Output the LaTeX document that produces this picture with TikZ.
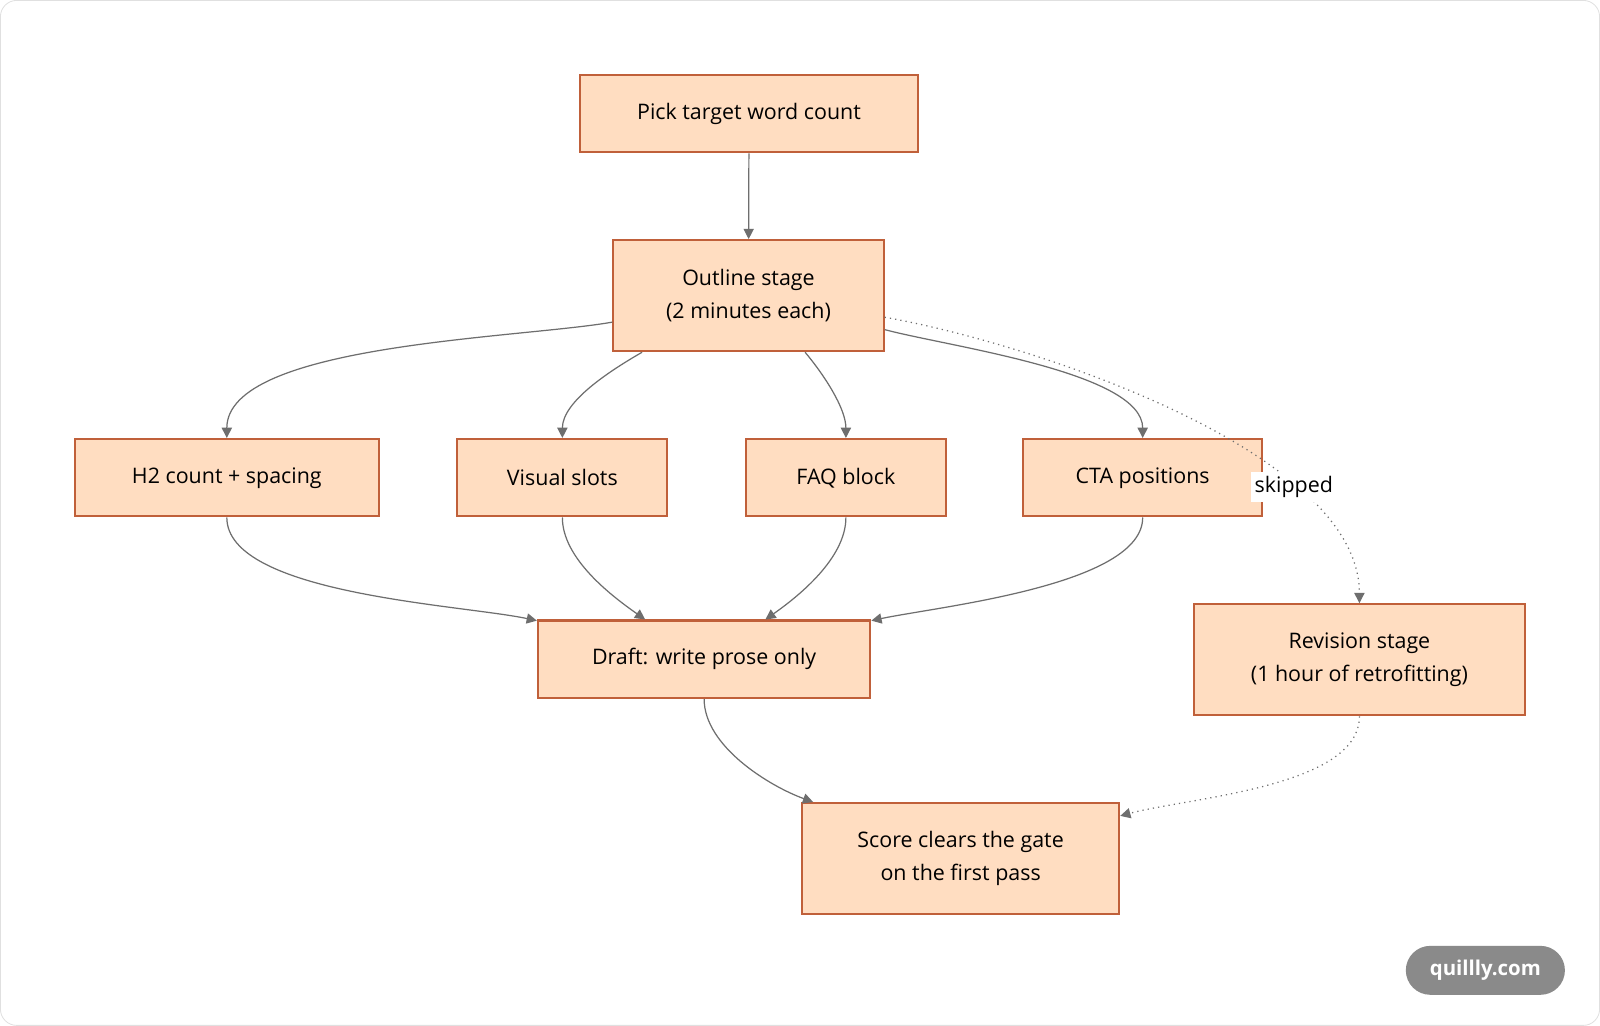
\documentclass[tikz,border=0pt]{standalone}
\usepackage{fontspec}
\setmainfont{Open Sans}
\usetikzlibrary{arrows.meta,positioning}
\definecolor{boxfill}{HTML}{FFDDC1}
\definecolor{boxline}{HTML}{C0603A}
\definecolor{linkgray}{HTML}{6E6E6E}
\definecolor{pillgray}{HTML}{8A8A8A}
\tikzset{
  stagebox/.style={draw=boxline,fill=boxfill,line width=1pt,inner sep=0pt,align=center,font=\fontsize{10.5}{16}\selectfont},
  link/.style={draw=linkgray,line width=0.6pt,-{Triangle[length=5pt,width=5pt]}},
  skiplink/.style={link,dotted},
}
\begin{document}
\begin{tikzpicture}[x=0.5pt,y=-0.5pt]
  \draw[rounded corners=8pt,draw=black!12,fill=white] (0,0) rectangle (1568,1005);
  % stages
  \node[stagebox,minimum width=166pt,minimum height=38pt] (pick) at (734,111) {Pick target word count};
  \node[stagebox,minimum width=132.5pt,minimum height=54.5pt] (outline) at (733.5,289.5) {Outline stage\\(2 minutes each)};
  \node[stagebox,minimum width=149pt,minimum height=38pt] (h2) at (222,468) {H2 count + spacing};
  \node[stagebox,minimum width=103pt,minimum height=38pt] (visual) at (551,468) {Visual slots};
  \node[stagebox,minimum width=98pt,minimum height=38pt] (faq) at (829,468) {FAQ block};
  \node[stagebox,minimum width=117pt,minimum height=38pt] (cta) at (1120,468) {CTA positions};
  \node[stagebox,minimum width=163pt,minimum height=38pt] (draft) at (690,646) {Draft: write prose only};
  \node[stagebox,minimum width=162.5pt,minimum height=54.5pt] (revision) at (1332.5,646.5) {Revision stage\\(1 hour of retrofitting)};
  \node[stagebox,minimum width=155.5pt,minimum height=54.5pt] (score) at (941.5,841.5) {Score clears the gate\\on the first pass};
  % connectors
  \draw[link] (pick) -- (outline);
  \draw[link] (outline.191) to[out=190,in=90,looseness=0.6] (h2.north);
  \draw[link] (outline.208) to[out=210,in=90,looseness=0.8] (visual.north);
  \draw[link] (outline.315) to[out=-50,in=90,looseness=0.8] (faq.north);
  \draw[link] (outline.346) to[out=-15,in=90,looseness=0.6] (cta.north);
  \draw[skiplink] (outline.351) to[out=-10,in=90,looseness=0.7]
    node[pos=0.72,fill=white,inner sep=2pt,font=\fontsize{10.5}{16}\selectfont] {skipped} (revision.north);
  \draw[link] (h2.south) to[out=-90,in=168,looseness=0.6] (draft.167.5);
  \draw[link] (visual.south) to[out=-90,in=145,looseness=0.8] (draft.146);
  \draw[link] (faq.south) to[out=-90,in=35,looseness=0.8] (draft.33);
  \draw[link] (cta.south) to[out=-90,in=12,looseness=0.6] (draft.13);
  \draw[link] (draft.south) to[out=-90,in=160,looseness=0.8] (score.159);
  \draw[skiplink] (revision.south) to[out=-90,in=15,looseness=0.7] (score.15);
  % watermark
  \node[fill=pillgray,rounded corners=12pt,minimum width=78pt,minimum height=24pt,text=white,font=\fontsize{10}{12}\selectfont\bfseries] (mark) at (1456,951) {quillly.com};
\end{tikzpicture}
\end{document}
